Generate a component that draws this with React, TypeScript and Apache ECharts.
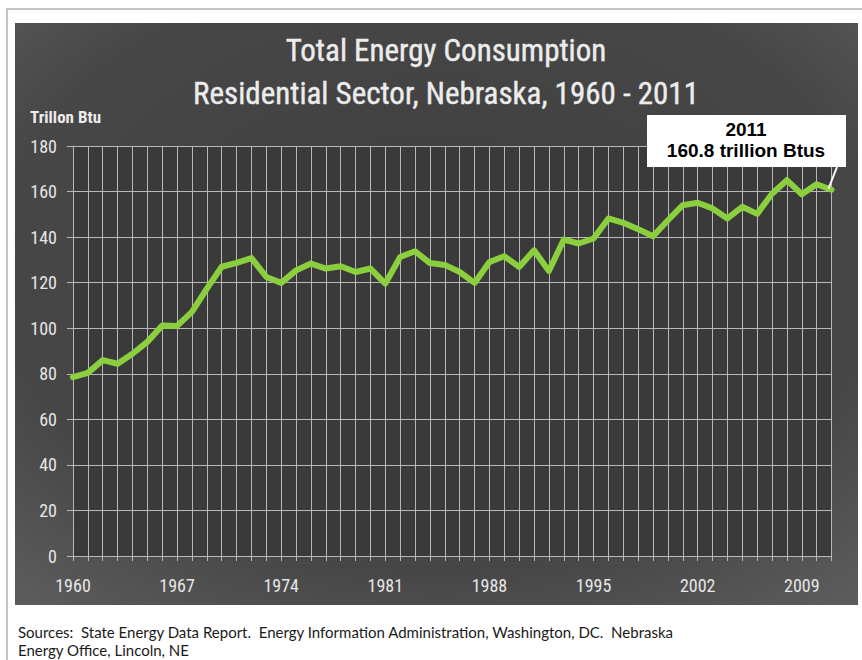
import React, { useEffect, useRef } from 'react';
import * as echarts from 'echarts';

const years = [
  '1960', '1961', '1962', '1963', '1964', '1965', '1966', '1967', '1968', '1969',
  '1970', '1971', '1972', '1973', '1974', '1975', '1976', '1977', '1978', '1979',
  '1980', '1981', '1982', '1983', '1984', '1985', '1986', '1987', '1988', '1989',
  '1990', '1991', '1992', '1993', '1994', '1995', '1996', '1997', '1998', '1999',
  '2000', '2001', '2002', '2003', '2004', '2005', '2006', '2007', '2008', '2009',
  '2010', '2011',
];

const consumption = [
  78.5, 80.4, 86.0, 84.4, 88.8, 94.0, 101.2, 101.0, 107.2, 117.4,
  127.0, 128.7, 130.8, 122.5, 119.9, 125.4, 128.4, 126.2, 127.2, 124.7,
  126.2, 119.6, 131.3, 133.8, 128.6, 127.8, 124.7, 119.9, 129.1, 131.6,
  126.9, 134.2, 125.1, 138.9, 137.2, 139.4, 148.2, 146.3, 143.5, 140.4,
  147.4, 154.0, 155.1, 152.6, 148.2, 153.3, 150.2, 159.0, 165.0, 158.8,
  163.2, 160.8,
];

const titleLines = ['Total Energy Consumption', 'Residential Sector, Nebraska, 1960 - 2011'];
const yAxisName = 'Trillon Btu';
const calloutLines = ['2011', '160.8 trillion Btus'];
const sourceLines = [
  'Sources:  State Energy Data Report.  Energy Information Administration, Washington, DC.  Nebraska',
  'Energy Office, Lincoln, NE',
];

const NARROW = '"Liberation Sans Narrow", "Arial Narrow", "Roboto Condensed", Lato, sans-serif';
const BOLD_SANS = '"Liberation Sans", Arial, sans-serif';
const SOURCE_FONT = 'Lato, "Noto Sans", sans-serif';

export default function App() {
  const ref = useRef<HTMLDivElement>(null);

  useEffect(() => {
    if (!ref.current) return;
    const chart = echarts.init(ref.current, undefined, { renderer: 'svg' });

    const baseGraphic: any[] = [
      {
        type: 'rect',
        z: -100,
        shape: { x: 7, y: 9, width: 900, height: 700 },
        style: { fill: '#ffffff', stroke: '#c4c4c4', lineWidth: 2 },
        silent: true,
      },
      {
        type: 'rect',
        z: -90,
        shape: { x: 15, y: 23, width: 843, height: 582 },
        style: {
          fill: {
            type: 'radial',
            x: 0.5,
            y: 0.42,
            r: 0.75,
            colorStops: [
              { offset: 0, color: '#3e3e3e' },
              { offset: 0.7, color: '#474747' },
              { offset: 1, color: '#5c5c5c' },
            ],
          },
        },
        silent: true,
      },
      {
        type: 'text',
        z: 50,
        x: 446,
        y: 50,
        style: {
          text: titleLines[0],
          fill: '#ececec',
          font: `31px ${NARROW}`,
          align: 'center',
          verticalAlign: 'middle',
          stroke: '#ececec',
          lineWidth: 0.4,
        },
      },
      {
        type: 'text',
        z: 50,
        x: 446,
        y: 93,
        style: {
          text: titleLines[1],
          fill: '#ececec',
          font: `31px ${NARROW}`,
          align: 'center',
          verticalAlign: 'middle',
          stroke: '#ececec',
          lineWidth: 0.4,
        },
      },
      {
        type: 'text',
        z: 50,
        x: 30,
        y: 117,
        style: {
          text: yAxisName,
          fill: '#ececec',
          font: `bold 17px ${NARROW}`,
          align: 'left',
          verticalAlign: 'middle',
        },
      },
      {
        type: 'text',
        z: 50,
        x: 18,
        y: 632,
        style: {
          text: sourceLines[0],
          fill: '#1a1a1a',
          font: `15px ${SOURCE_FONT}`,
          align: 'left',
          verticalAlign: 'middle',
        },
      },
      {
        type: 'text',
        z: 50,
        x: 18,
        y: 650,
        style: {
          text: sourceLines[1],
          fill: '#1a1a1a',
          font: `15px ${SOURCE_FONT}`,
          align: 'left',
          verticalAlign: 'middle',
        },
      },
      {
        type: 'rect',
        z: 60,
        shape: { x: 647, y: 115, width: 199, height: 52 },
        style: { fill: '#ffffff' },
      },
      {
        type: 'text',
        z: 61,
        x: 746,
        y: 129,
        style: {
          text: calloutLines[0],
          fill: '#000000',
          font: `bold 19px ${BOLD_SANS}`,
          align: 'center',
          verticalAlign: 'middle',
        },
      },
      {
        type: 'text',
        z: 61,
        x: 746,
        y: 150,
        style: {
          text: calloutLines[1],
          fill: '#000000',
          font: `bold 19px ${BOLD_SANS}`,
          align: 'center',
          verticalAlign: 'middle',
        },
      },
    ];

    chart.setOption({
      animation: false,
      backgroundColor: 'transparent',
      grid: {
        left: 73,
        right: 30.5,
        top: 146,
        bottom: 104,
        show: true,
        backgroundColor: '#3a3a3a',
        borderWidth: 0,
      },
      xAxis: {
        type: 'category',
        data: years,
        boundaryGap: false,
        axisLine: { show: true, lineStyle: { color: '#b8b8b8', width: 1 } },
        axisTick: { show: true, interval: 0, length: 5, lineStyle: { color: '#b8b8b8' } },
        axisLabel: {
          interval: 6,
          color: '#e6e6e6',
          fontFamily: NARROW,
          fontSize: 18,
          margin: 20,
        },
        splitLine: { show: true, interval: 0, lineStyle: { color: '#b8b8b8', width: 1 } },
      },
      yAxis: {
        type: 'value',
        min: 0,
        max: 180,
        interval: 20,
        axisLine: { show: true, lineStyle: { color: '#b8b8b8', width: 1 } },
        axisTick: { show: true, length: 6, lineStyle: { color: '#b8b8b8' } },
        axisLabel: {
          color: '#e6e6e6',
          fontFamily: NARROW,
          fontSize: 18,
          margin: 16,
        },
        splitLine: { show: true, lineStyle: { color: '#b8b8b8', width: 1 } },
      },
      series: [
        {
          type: 'line',
          data: consumption,
          symbol: 'none',
          smooth: false,
          lineStyle: { color: '#8ccf3e', width: 6, join: 'round', cap: 'round' },
          z: 5,
        },
      ],
      graphic: baseGraphic,
    });

    const last = years.length - 1;
    const pt = chart.convertToPixel({ seriesIndex: 0 }, [years[last], consumption[last]]) as number[];
    if (pt && isFinite(pt[0])) {
      chart.setOption({
        graphic: [
          ...baseGraphic,
          {
            type: 'line',
            z: 62,
            shape: { x1: 837, y1: 167, x2: pt[0] - 3, y2: pt[1] - 1 },
            style: { stroke: '#ffffff', lineWidth: 2 },
          },
        ],
      });
    }

    return () => chart.dispose();
  }, []);

  return (
    <div
      ref={ref}
      style={{ position: 'absolute', left: 0, top: 0, width: 862, height: 660 }}
    />
  );
}
